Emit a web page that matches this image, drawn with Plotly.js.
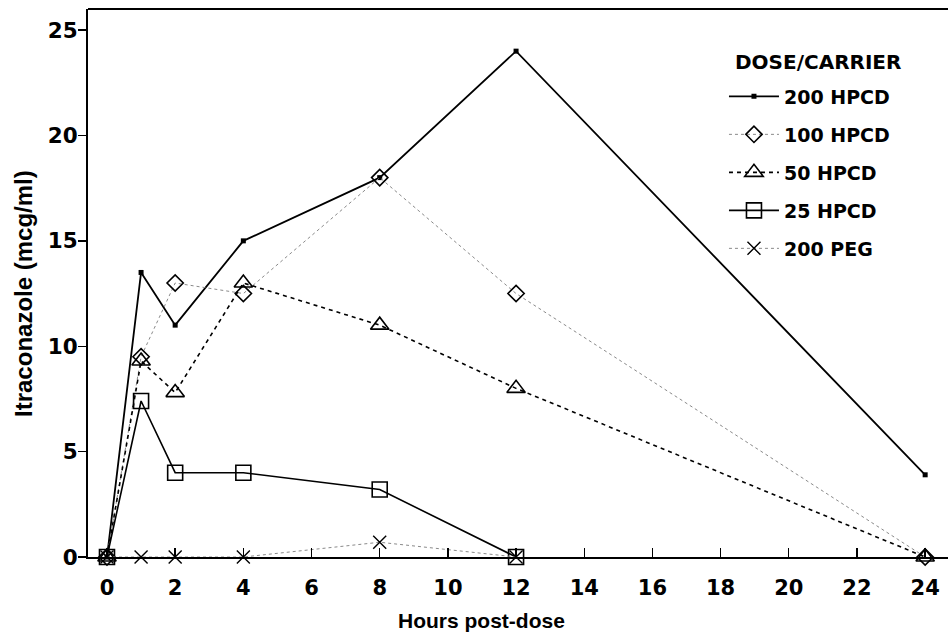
<!DOCTYPE html>
<html>
<head>
<meta charset="utf-8">
<script src="https://cdn.plot.ly/plotly-3.0.1.min.js"></script>
<style>html,body{margin:0;padding:0;background:#fff;}#chart{width:948px;height:632px;}</style>
</head>
<body>
<div id="chart"></div>
<script>
const hours = [0, 1, 2, 4, 8, 12, 24];
const hpcd200 = [0, 13.5, 11, 15, 18, 24, 3.9];
const hpcd100 = [0, 9.5, 13, 12.5, 18, 12.5, 0];
const hpcd50 = [0, 9.3, 7.8, 13, 11, 8, 0];
const hours25 = [0, 1, 2, 4, 8, 12];
const hpcd25 = [0, 7.4, 4, 4, 3.2, 0];
const hoursPeg = [0, 1, 2, 4, 8, 12];
const peg200 = [0, 0, 0, 0, 0.7, 0];
const xTicks = [0, 2, 4, 6, 8, 10, 12, 14, 16, 18, 20, 22, 24];
const yTicks = [0, 5, 10, 15, 20, 25];

const FONT = 'DejaVu Sans, Verdana, sans-serif';
const FONT2 = 'Liberation Sans, Arial, sans-serif';

const traces = [
  {name: '200 HPCD', x: hours, y: hpcd200, legendgroup: 'a',
   mode: 'lines+markers', line: {color: '#000', width: 1.8},
   marker: {symbol: 'square', size: 5, color: '#000'}},
  {name: '100 HPCD', x: hours, y: hpcd100, legendgroup: 'b',
   mode: 'lines+markers', line: {color: '#8a8a8a', width: 1, dash: 'dot'},
   marker: {symbol: 'diamond-open', size: 12.5, color: '#000', line: {width: 1.6, color: '#000'}}},
  {name: '50 HPCD', x: hours, y: hpcd50, legendgroup: 'c',
   mode: 'lines+markers', line: {color: '#000', width: 1.6, dash: '4px,4px'},
   marker: {symbol: 'triangle-up-open', size: 16, color: '#000', line: {width: 1.6, color: '#000'}}},
  {name: '25 HPCD', x: hours25, y: hpcd25, legendgroup: 'd',
   mode: 'lines+markers', line: {color: '#000', width: 1.6},
   marker: {symbol: 'square-open', size: 15, color: '#000', line: {width: 1.6, color: '#000'}}},
  {name: '200 PEG', x: hoursPeg, y: peg200, legendgroup: 'e',
   mode: 'lines+markers', line: {color: '#8a8a8a', width: 1, dash: 'dot'},
   marker: {symbol: 'x-thin-open', size: 13, color: '#000', line: {width: 1.4, color: '#000'}}}
];
traces.forEach(t => { t.cliponaxis = false; });

const layout = {
  width: 948, height: 632,
  margin: {l: 88, r: 0, t: 9, b: 75},
  paper_bgcolor: '#fff', plot_bgcolor: '#fff',
  font: {family: FONT, color: '#000', size: 20, weight: 'bold'},
  showlegend: true,
  legend: {
    x: 0.7395, y: 0.875, xanchor: 'left', yanchor: 'top',
    bgcolor: 'rgba(0,0,0,0)', borderwidth: 0,
    font: {family: FONT, size: 19, weight: 'bold', color: '#000'},
    itemwidth: 50,
    tracegroupgap: 10.3
  },
  xaxis: {
    range: [-0.557, 24.67], tickvals: xTicks, ticktext: xTicks.map(String),
    ticks: 'inside', ticklen: 9, tickwidth: 1.4, tickcolor: '#000',
    showline: true, linecolor: '#000', linewidth: 2, showgrid: false, zeroline: false,
    tickfont: {family: FONT, size: 21, weight: 'bold'}, ticklabelstandoff: 11
  },
  yaxis: {
    range: [0, 26], tickvals: yTicks, ticktext: yTicks.map(String),
    ticks: 'outside', ticklen: 8, tickwidth: 1.4, tickcolor: '#000',
    showline: true, linecolor: '#000', linewidth: 2, showgrid: false, zeroline: false,
    tickfont: {family: FONT, size: 21.5, weight: 'bold'}, ticklabelstandoff: -4
  },
  shapes: [
    {type: 'line', xref: 'paper', yref: 'paper', x0: 0, x1: 1, y0: 1, y1: 1, line: {color: '#000', width: 2}}
  ],
  annotations: [
    {text: 'DOSE/CARRIER', xref: 'paper', yref: 'paper', x: (733 - 88) / 860, y: (557 - 62) / 548,
     xanchor: 'left', yanchor: 'middle', showarrow: false,
     font: {family: FONT, size: 20, weight: 'bold'}},
    {text: 'Hours post-dose', xref: 'paper', yref: 'paper', x: 0.458, y: -0.115,
     xanchor: 'center', yanchor: 'middle', showarrow: false,
     font: {family: FONT2, size: 21, weight: 'bold'}},
    {text: 'Itraconazole (mcg/ml)', xref: 'paper', yref: 'paper', x: -0.0744, y: 0.48,
     xanchor: 'center', yanchor: 'middle', textangle: -90, showarrow: false,
     font: {family: FONT2, size: 24, weight: 'bold'}}
  ]
};

Plotly.newPlot('chart', traces, layout, {displayModeBar: false, staticPlot: true});
</script>
</body>
</html>
